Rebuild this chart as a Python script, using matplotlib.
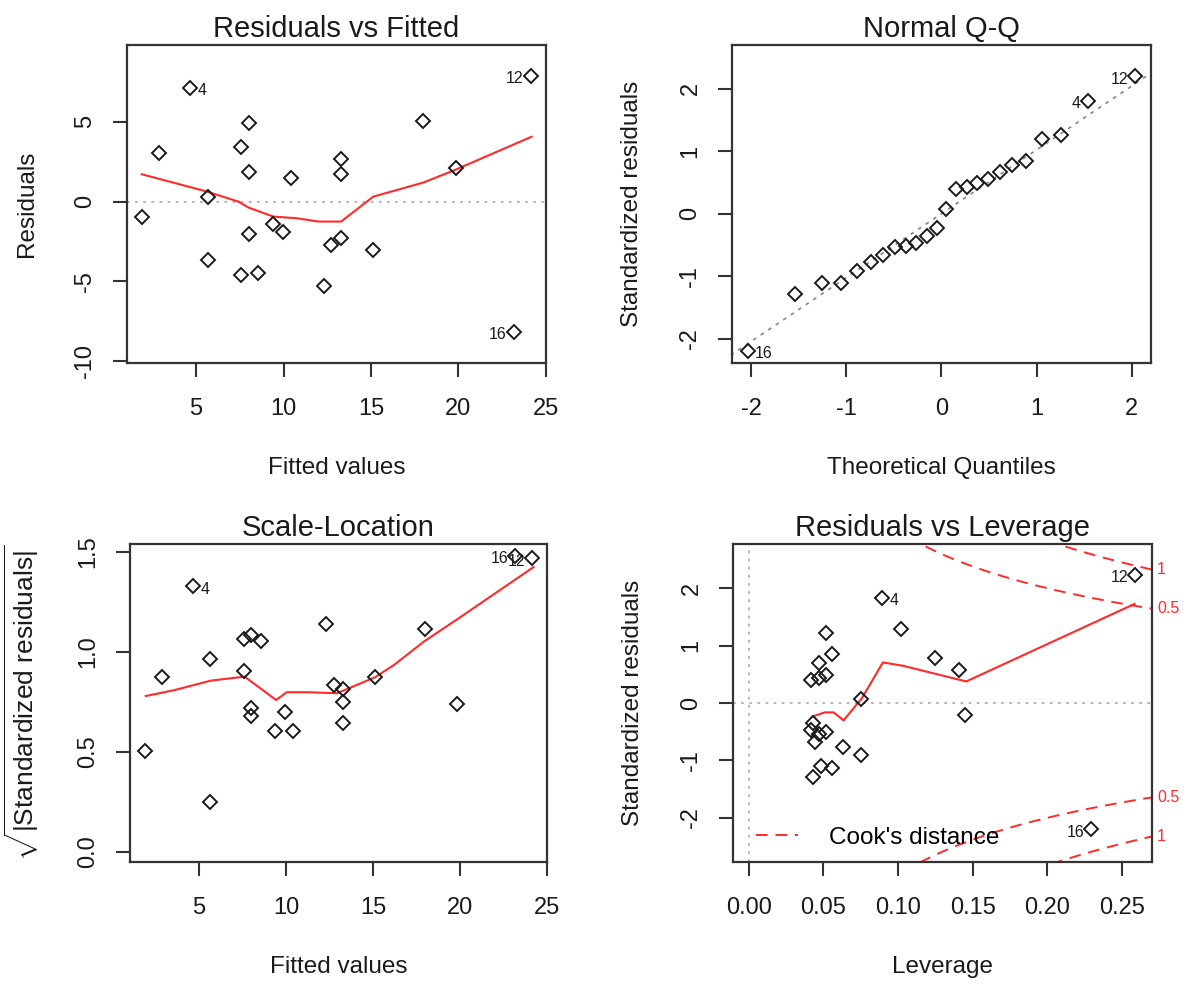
import numpy as np
import matplotlib
matplotlib.use("Agg")
import matplotlib.pyplot as plt
from matplotlib.lines import Line2D

plt.rcParams["font.family"] = ["Liberation Sans", "DejaVu Sans"]
plt.rcParams["mathtext.fontset"] = "custom"
plt.rcParams["mathtext.rm"] = "Liberation Sans"
plt.rcParams["mathtext.it"] = "Liberation Sans:italic"
plt.rcParams["axes.unicode_minus"] = False

#---------------------------------------------------------------------------------------------------------------------------#
# lm diagnostics, one value per observation (n = 24)

fitted = [1.90, 2.87, 4.68, 5.67, 5.67, 7.58, 8.02, 8.02, 8.02, 7.58, 8.55, 9.40,
          9.95, 10.40, 12.31, 12.74, 13.26, 13.26, 13.26, 15.10, 17.99, 19.84, 23.17, 24.13]
residuals = [-0.94, 3.02, 7.14, 0.31, -3.64, 3.40, 4.90, 1.84, -2.02, -4.60, -4.48, -1.41,
             -1.91, 1.50, -5.31, -2.71, -2.25, 2.67, 1.73, -3.06, 5.02, 2.09, -8.14, 7.86]
sqrt_std_resid = [0.505, 0.877, 1.328, 0.249, 0.964, 0.907, 1.085, 0.682, 0.722, 1.065, 1.056, 0.607,
                  0.700, 0.607, 1.141, 0.834, 0.749, 0.816, 0.644, 0.877, 1.115, 0.739, 1.482, 1.469]
obs_ids = {2: "4", 23: "12", 22: "16"}

# smoother through residuals vs fitted
smooth_rf_x = [1.90, 5.61, 7.42, 7.99, 9.42, 10.75, 11.99, 13.29, 15.13, 17.99, 19.80, 24.18]
smooth_rf_y = [1.71, 0.63, 0.00, -0.37, -0.94, -1.04, -1.25, -1.25, 0.31, 1.19, 1.98, 4.06]

# smoother for scale-location
smooth_sl_x = [1.95, 3.62, 5.69, 7.63, 9.44, 10.05, 11.26, 12.94, 15.13, 16.22, 17.94, 20.03, 24.23]
smooth_sl_y = [0.780, 0.810, 0.857, 0.877, 0.760, 0.799, 0.799, 0.794, 0.874, 0.936, 1.053, 1.175, 1.425]

# normal Q-Q
qq_theoretical = [-2.037, -1.534, -1.258, -1.055, -0.887, -0.742, -0.611, -0.489, -0.374, -0.264, -0.157, -0.052,
                  0.052, 0.157, 0.264, 0.374, 0.489, 0.611, 0.742, 0.887, 1.055, 1.258, 1.534, 2.037]
qq_sample = [-2.195, -1.288, -1.107, -1.107, -0.915, -0.771, -0.664, -0.541, -0.515, -0.467, -0.360, -0.237,
             0.067, 0.392, 0.429, 0.483, 0.547, 0.659, 0.781, 0.845, 1.203, 1.267, 1.800, 2.200]
qq_ids = {23: "12", 22: "4", 0: "16"}

# residuals vs leverage
leverage = [0.0895, 0.1022, 0.0515, 0.0558, 0.0469, 0.0419, 0.0471, 0.0520, 0.0752, 0.1250, 0.1410, 0.1450,
            0.2588, 0.2294, 0.0431, 0.0415, 0.0469, 0.0520, 0.0442, 0.0631, 0.0752, 0.0482, 0.0558, 0.0431]
lev_std_resid = [1.837, 1.287, 1.217, 0.857, 0.696, 0.393, 0.435, 0.492, 0.075, 0.793, 0.567, -0.216,
                 2.230, -2.203, -0.348, -0.476, -0.534, -0.511, -0.678, -0.771, -0.899, -1.102, -1.131, -1.287]
lev_ids = {0: "4", 12: "12", 13: "16"}

smooth_lev_x = [0.0431, 0.0509, 0.0569, 0.0636, 0.0759, 0.0899, 0.1033, 0.1457, 0.2584]
smooth_lev_y = [-0.233, -0.163, -0.163, -0.302, 0.087, 0.707, 0.649, 0.376, 1.727]

cook_levels = [0.5, 1]
n_params = 2

#---------------------------------------------------------------------------------------------------------------------------#

RED = "#ff2a2a"
INK = "#1a1a1a"
TICK_SIZE = 17
LABEL_SIZE = 17.5
TITLE_SIZE = 21
ID_SIZE = 11.5
COOK_DASH = (0, (6, 4))


def style_axes(ax, title, xlabel, ylabel, ylabel_size=LABEL_SIZE):
    ax.set_title(title, fontsize=TITLE_SIZE, color=INK, pad=6)
    ax.set_xlabel(xlabel, fontsize=LABEL_SIZE, color=INK, labelpad=27)
    ax.set_ylabel(ylabel, fontsize=ylabel_size, color=INK, labelpad=26)
    for s in ax.spines.values():
        s.set_linewidth(1.6)
        s.set_color("#333333")
    ax.tick_params(axis="both", length=10, width=1.5, color="#333333",
                   labelsize=TICK_SIZE, labelcolor=INK)
    ax.tick_params(axis="x", pad=15)
    ax.tick_params(axis="y", pad=12, labelrotation=90)
    for lab in ax.get_yticklabels():
        lab.set_va("center")


def draw_points(ax, x, y):
    ax.plot(x, y, linestyle="none", marker="D", markersize=7, markerfacecolor="none",
            markeredgecolor=INK, markeredgewidth=1.4, zorder=3)


def ids_side(ax, xv):
    lo, hi = ax.get_xlim()
    return "left" if xv < (lo + hi) / 2 else "right"


def label_points(ax, x, y, ids):
    for i, text in ids.items():
        side = ids_side(ax, x[i])
        dx = 5 if side == "left" else -5
        ax.annotate(text, (x[i], y[i]), xytext=(dx, -2), textcoords="offset points",
                    ha=side, va="center", fontsize=ID_SIZE, color=INK)


fig = plt.figure(figsize=(11.91, 9.89), dpi=100)
ax1 = fig.add_axes([0.1066, 0.6330, 0.3518, 0.3215])
ax2 = fig.add_axes([0.6146, 0.6330, 0.3518, 0.3215])
ax3 = fig.add_axes([0.1092, 0.1284, 0.3501, 0.3215])
ax4 = fig.add_axes([0.6154, 0.1284, 0.3518, 0.3215])

# Residuals vs Fitted
ax1.axhline(0, color="#b0b0b0", linestyle=(0, (1.5, 3)), linewidth=1.3, zorder=1)
ax1.plot(smooth_rf_x, smooth_rf_y, color=RED, linewidth=1.5, zorder=2)
draw_points(ax1, fitted, residuals)
ax1.set_xlim(1.05, 25.0)
ax1.set_ylim(-10.1, 9.8)
ax1.set_xticks([5, 10, 15, 20, 25])
ax1.set_yticks([-10, -5, 0, 5])
style_axes(ax1, "Residuals vs Fitted", "Fitted values", "Residuals")
label_points(ax1, fitted, residuals, obs_ids)

# Normal Q-Q, reference line through the quartiles
q_lo, q_hi = np.quantile(qq_sample, [0.25, 0.75])
z_q = 0.6745
slope = (q_hi - q_lo) / (2 * z_q)
icept = q_lo + z_q * slope
line_x = np.array([-3.0, 3.0])
ax2.plot(line_x, icept + slope * line_x, color="#8c8c8c", linestyle=(0, (2, 3)), linewidth=1.3, zorder=1)
draw_points(ax2, qq_theoretical, qq_sample)
ax2.set_xlim(-2.2, 2.2)
ax2.set_ylim(-2.39, 2.70)
ax2.set_xticks([-2, -1, 0, 1, 2])
ax2.set_yticks([-2, -1, 0, 1, 2])
style_axes(ax2, "Normal Q-Q", "Theoretical Quantiles", "Standardized residuals")
label_points(ax2, qq_theoretical, qq_sample, qq_ids)

# Scale-Location
ax3.plot(smooth_sl_x, smooth_sl_y, color=RED, linewidth=1.5, zorder=2)
draw_points(ax3, fitted, sqrt_std_resid)
ax3.set_xlim(1.05, 25.0)
ax3.set_ylim(-0.05, 1.54)
ax3.set_xticks([5, 10, 15, 20, 25])
ax3.set_yticks([0.0, 0.5, 1.0, 1.5])
ax3.set_yticklabels(["0.0", "0.5", "1.0", "1.5"])
style_axes(ax3, "Scale-Location", "Fitted values",
           r"$\sqrt{|\mathrm{Standardized\ residuals}|}$", ylabel_size=19)
label_points(ax3, fitted, sqrt_std_resid, obs_ids)

# Residuals vs Leverage with Cook's distance contours
ax4.axhline(0, color="#b0b0b0", linestyle=(0, (1.5, 3)), linewidth=1.3, zorder=1)
ax4.axvline(0, color="#b0b0b0", linestyle=(0, (1.5, 3)), linewidth=1.3, zorder=1)
ax4.set_xlim(-0.0105, 0.270)
ax4.set_ylim(-2.77, 2.77)
x_max = ax4.get_xlim()[1]
hh = np.linspace(0.002, x_max, 101)
for crit in cook_levels:
    cl = np.sqrt(crit * n_params * (1 - hh) / hh)
    ax4.plot(hh, cl, color=RED, linestyle=COOK_DASH, linewidth=1.4, zorder=2)
    ax4.plot(hh, -cl, color=RED, linestyle=COOK_DASH, linewidth=1.4, zorder=2)
    at_y = np.sqrt(crit * n_params * (1 - x_max) / x_max)
    for yy in (at_y, -at_y):
        ax4.text(1.012, yy, f"{crit:g}", transform=ax4.get_yaxis_transform(),
                 ha="left", va="center", fontsize=ID_SIZE, color=RED, clip_on=False)
ax4.plot(smooth_lev_x, smooth_lev_y, color=RED, linewidth=1.5, zorder=2)
draw_points(ax4, leverage, lev_std_resid)
ax4.set_xticks([0.0, 0.05, 0.10, 0.15, 0.20, 0.25])
ax4.set_xticklabels(["0.00", "0.05", "0.10", "0.15", "0.20", "0.25"])
ax4.set_yticks([-2, -1, 0, 1, 2])
style_axes(ax4, "Residuals vs Leverage", "Leverage", "Standardized residuals")
label_points(ax4, leverage, lev_std_resid, lev_ids)
cook_handle = Line2D([], [], color=RED, linestyle=COOK_DASH, linewidth=1.4)
ax4.legend([cook_handle], ["Cook's distance"], loc="lower left", bbox_to_anchor=(0.024, 0.0),
           frameon=False, fontsize=LABEL_SIZE, handlelength=1.7, borderaxespad=0.15,
           handletextpad=1.3)

fig.savefig("out.png", dpi=100)
